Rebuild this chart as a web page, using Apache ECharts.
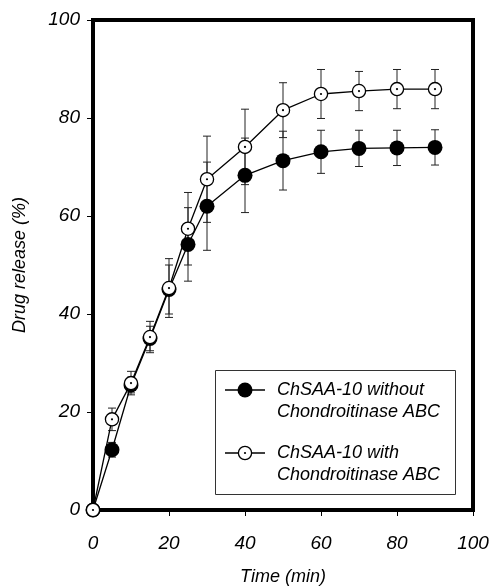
<!DOCTYPE html>
<html>
<head>
<meta charset="utf-8">
<script src="https://cdn.jsdelivr.net/npm/echarts@6/dist/echarts.min.js"></script>
<style>
  html, body { margin: 0; padding: 0; background: #fff; }
  #chart { width: 493px; height: 586px; }
</style>
</head>
<body>
<div id="chart"></div>
<script>
// time points (min)
const times = [0, 5, 10, 15, 20, 25, 30, 40, 50, 60, 70, 80, 90]
// ChSAA-10 without Chondroitinase ABC
const withoutVals = [0, 12.3, 25.5, 35, 45, 54.2, 62, 68.3, 71.3, 73.1, 73.8, 73.9, 74]
const withoutErr = [0, 1.5, 1.6, 2.5, 5, 7.5, 9, 7.6, 6, 4.4, 3.7, 3.6, 3.6]
// ChSAA-10 with Chondroitinase ABC
const withVals = [0, 18.5, 25.9, 35.3, 45.3, 57.4, 67.5, 74.1, 81.6, 84.9, 85.5, 85.9, 85.9]
const withErr = [0, 2.3, 2.4, 3.2, 6, 7.4, 8.8, 7.7, 5.6, 5, 4, 4, 4]
const xTicks = [0, 20, 40, 60, 80, 100]
const yTicks = [0, 20, 40, 60, 80, 100]

const font = 'Liberation Sans'

const openSym = 'image://data:image/svg+xml;utf8,' + encodeURIComponent(
  '<svg xmlns="http://www.w3.org/2000/svg" width="16" height="16">' +
  '<circle cx="8" cy="8" r="6.6" fill="#fff" stroke="#000" stroke-width="1.3"/>' +
  '<circle cx="8" cy="8" r="1.1" fill="#000"/></svg>')

const pairs = (vals) => times.map((t, i) => [t, vals[i]])
const errData = (vals, err) => times.map((t, i) => [t, vals[i] - err[i], vals[i] + err[i]])

const renderErr = (params, api) => {
  const lo = api.coord([api.value(0), api.value(1)])
  const hi = api.coord([api.value(0), api.value(2)])
  const w = 4
  const style = { stroke: '#222', lineWidth: 1 }
  return {
    type: 'group',
    children: [
      { type: 'line', shape: { x1: lo[0], y1: lo[1], x2: hi[0], y2: hi[1] }, style },
      { type: 'line', shape: { x1: lo[0] - w, y1: lo[1], x2: lo[0] + w, y2: lo[1] }, style },
      { type: 'line', shape: { x1: hi[0] - w, y1: hi[1], x2: hi[0] + w, y2: hi[1] }, style }
    ]
  }
}

const chart = echarts.init(document.getElementById('chart'))

const labelStyle = { fontFamily: font, fontStyle: 'italic', fontSize: 19, color: '#000' }

const option = {
  animation: false,
  grid: {
    left: 93, right: 20, top: 20, bottom: 76,
    outerBoundsMode: 'none',
    show: true, borderColor: '#000', borderWidth: 4
  },
  xAxis: {
    type: 'value', min: 0, max: 100, interval: 20,
    name: 'Time (min)', nameLocation: 'middle', nameGap: 58,
    nameTextStyle: { fontFamily: font, fontStyle: 'italic', fontSize: 18, color: '#000' },
    axisLine: { show: true, lineStyle: { color: '#000', width: 4 } },
    axisTick: { show: true, length: 6, lineStyle: { color: '#000', width: 1 } },
    axisLabel: { ...labelStyle, margin: 24, formatter: v => xTicks.includes(v) ? String(v) : '' },
    splitLine: { show: false }
  },
  yAxis: {
    type: 'value', min: 0, max: 100, interval: 20,
    name: 'Drug release (%)', nameLocation: 'middle', nameGap: 64,
    nameTextStyle: { fontFamily: font, fontStyle: 'italic', fontSize: 18, color: '#000' },
    axisLine: { show: true, lineStyle: { color: '#000', width: 4 } },
    axisTick: { show: true, length: 6, lineStyle: { color: '#000', width: 1 } },
    axisLabel: { ...labelStyle, margin: 13, formatter: v => yTicks.includes(v) ? String(v) : '' },
    splitLine: { show: false }
  },
  series: [
    {
      type: 'custom', name: 'err-without', renderItem: renderErr,
      data: errData(withoutVals, withoutErr), clip: false, z: 1
    },
    {
      type: 'custom', name: 'err-with', renderItem: renderErr,
      data: errData(withVals, withErr), clip: false, z: 1
    },
    {
      type: 'line', name: 'ChSAA-10 without Chondroitinase ABC',
      data: pairs(withoutVals), clip: false, z: 3,
      symbol: 'circle', symbolSize: 15,
      itemStyle: { color: '#000' },
      lineStyle: { color: '#000', width: 1.3 }
    },
    {
      type: 'line', name: 'ChSAA-10 with Chondroitinase ABC',
      data: pairs(withVals), clip: false, z: 4,
      symbol: openSym, symbolSize: 16,
      itemStyle: { color: '#000' },
      lineStyle: { color: '#000', width: 1.3 }
    }
  ],
  graphic: [
    {
      type: 'rect', left: 215, top: 370, z: 10,
      shape: { width: 240, height: 124 },
      style: { fill: '#fff', stroke: '#333', lineWidth: 1 }
    },
    { type: 'line', z: 11, shape: { x1: 225, y1: 390, x2: 265, y2: 390 }, style: { stroke: '#000', lineWidth: 1.3 } },
    { type: 'circle', z: 12, shape: { cx: 245, cy: 390, r: 7.5 }, style: { fill: '#000' } },
    { type: 'line', z: 11, shape: { x1: 225, y1: 453, x2: 265, y2: 453 }, style: { stroke: '#000', lineWidth: 1.3 } },
    { type: 'image', z: 12, style: { image: openSym.slice(8), x: 237, y: 445, width: 16, height: 16 } },
    {
      type: 'text', z: 12, left: 277, top: 379,
      style: { text: 'ChSAA-10 without\nChondroitinase ABC', fontFamily: font, fontStyle: 'italic', fontSize: 18, lineHeight: 22, fill: '#000' }
    },
    {
      type: 'text', z: 12, left: 277, top: 442,
      style: { text: 'ChSAA-10 with\nChondroitinase ABC', fontFamily: font, fontStyle: 'italic', fontSize: 18, lineHeight: 22, fill: '#000' }
    }
  ]
}

chart.setOption(option)
</script>
</body>
</html>
